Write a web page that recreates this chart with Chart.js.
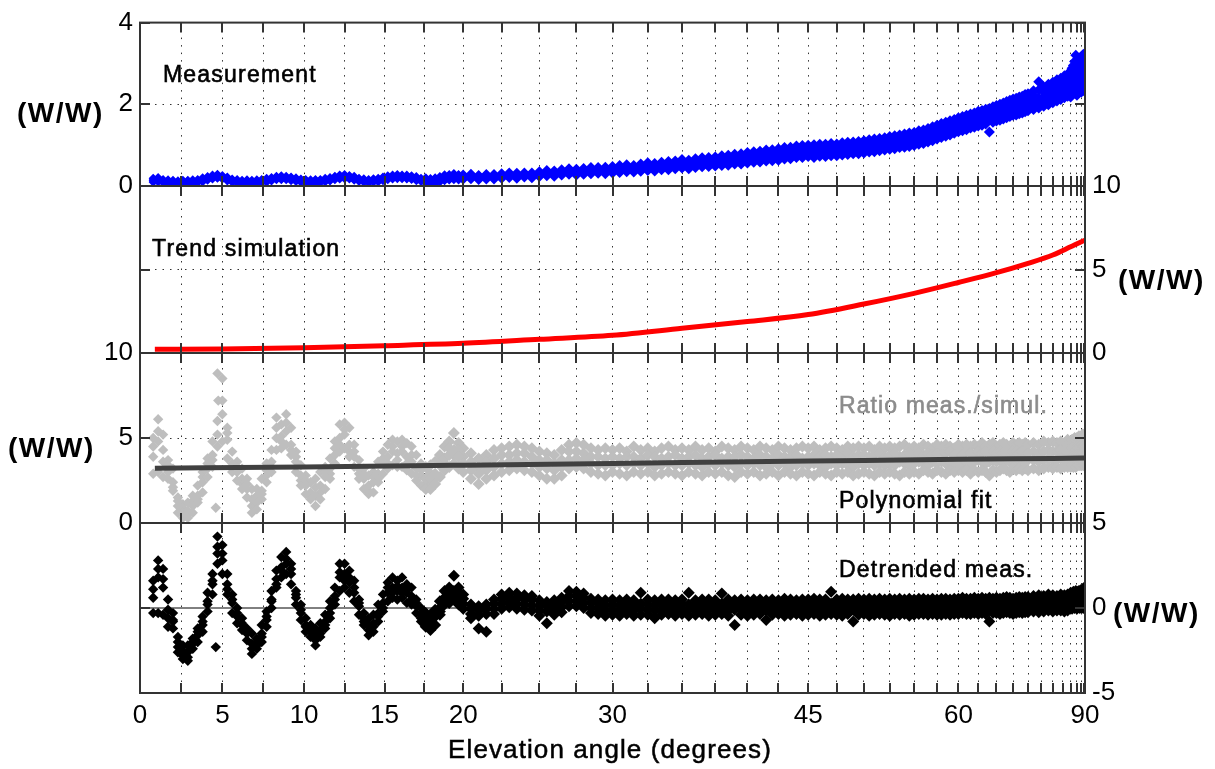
<!DOCTYPE html>
<html>
<head>
<meta charset="utf-8">
<script src="https://cdn.jsdelivr.net/npm/chart.js@4.4.1/dist/chart.umd.min.js"></script>
<style>
html,body{margin:0;padding:0;background:#ffffff;}
#wrap{position:relative;width:1215px;height:769px;overflow:hidden;background:#ffffff;}
#wrap canvas{position:absolute;left:0;top:0;}
</style>
</head>
<body>
<div id="wrap">
<canvas id="p1" width="1215" height="769"></canvas>
<canvas id="p2" width="1215" height="769"></canvas>
<canvas id="p3" width="1215" height="769"></canvas>
<canvas id="p4" width="1215" height="769"></canvas>
</div>
<script>
// ---------------- DATA ----------------
// Elevation angles (degrees) at which the scattered samples were read
const angles = [
  0.8,1.1,1.4,1.7,2.0,2.3,2.6,2.9,3.2,3.5,3.8,4.1,4.4,4.7,5.0,5.3,
  5.6,5.9,6.2,6.5,6.8,7.1,7.4,7.7,8.0,8.3,8.6,8.9,9.2,9.5,9.8,10.1,
  10.4,10.7,11.0,11.3,11.6,11.9,12.2,12.5,12.8,13.1,13.4,13.7,14.0,14.3,14.6,14.9,
  15.2,15.5,15.8,16.1,16.4,16.7,17.0,17.3,17.6,17.9,18.2,18.5,18.8,19.1,19.4,19.7,
  20,20.5,21,21.5,22,22.5,23,23.5,24,24.5,
  25,25.5,26,26.5,27,27.5,28,28.5,29,29.5,
  30,30.5,31,31.5,32,32.5,33,33.5,34,34.5,
  35,35.5,36,36.5,37,37.5,38,38.5,39,39.5,
  40,40.5,41,41.5,42,42.5,43,43.5,44,44.5,
  45,45.5,46,46.5,47,47.5,48,48.5,49,49.5,
  50,50.5,51,51.5,52,52.5,53,53.5,54,54.5,
  55,55.5,56,56.5,57,57.5,58,58.5,59,59.5,
  60,60.5,61,61.5,62,62.5,63,63.5,64,64.5,
  65,65.5,66,66.5,67,67.5,68,68.5,69,69.5,
  70,
  71,72,73,74,75,76,77,78,79,
  80,80.5,81,81.5,82,82.5,83,83.5,84,84.5,
  85,85.5,86,86.5,87,87.5,88,88.5,89,89.5
];

// Measurement (W/W): five samples across the band at each angle
const measA = [
  0.19,0.21,0.16,0.15,0.14,0.13,0.14,0.14,0.15,0.16,0.20,0.23,0.27,0.29,0.26,0.22,
  0.17,0.16,0.14,0.15,0.14,0.15,0.16,0.19,0.21,0.24,0.25,0.24,0.22,0.20,0.17,0.16,
  0.15,0.16,0.16,0.19,0.21,0.24,0.27,0.28,0.26,0.24,0.19,0.18,0.16,0.18,0.19,0.22,
  0.25,0.27,0.28,0.27,0.27,0.25,0.23,0.19,0.18,0.16,0.18,0.21,0.25,0.26,0.28,0.26,
  0.27,0.29,0.26,0.28,0.28,0.30,0.32,0.31,0.32,0.32,
  0.35,0.38,0.37,0.40,0.42,0.41,0.43,0.45,0.45,0.46,
  0.48,0.50,0.52,0.50,0.54,0.57,0.55,0.58,0.60,0.61,
  0.65,0.63,0.67,0.69,0.70,0.71,0.74,0.75,0.78,0.79,
  0.82,0.84,0.85,0.88,0.89,0.91,0.94,0.95,0.98,0.99,
  1.00,1.01,1.02,1.02,1.04,1.03,1.06,1.07,1.08,1.09,
  1.11,1.13,1.15,1.16,1.18,1.21,1.23,1.25,1.27,1.30,
  1.31,1.35,1.37,1.41,1.45,1.49,1.53,1.56,1.60,1.63,
  1.67,1.70,1.73,1.76,1.79,1.83,1.85,1.88,1.90,1.94,
  1.97,2.00,2.03,2.07,2.10,2.13,2.15,2.18,2.20,2.24,
  2.26,
  2.33,2.55,2.43,2.49,2.54,2.60,2.64,2.70,2.74,
  2.80,2.88,2.95,3.05,3.20,2.92,3.10,2.98,3.05,3.15,
  3.00,3.18,3.08,3.22,3.02,3.12,3.24,3.06,3.16,3.00
];
const measD = [
  0.17,0.18,0.14,0.13,0.12,0.11,0.12,0.12,0.12,0.14,0.18,0.21,0.25,0.27,0.23,0.20,
  0.15,0.14,0.12,0.12,0.12,0.13,0.14,0.16,0.19,0.22,0.23,0.21,0.20,0.18,0.15,0.14,
  0.13,0.14,0.14,0.16,0.19,0.22,0.25,0.26,0.24,0.21,0.17,0.15,0.14,0.16,0.17,0.20,
  0.23,0.25,0.26,0.25,0.24,0.23,0.20,0.17,0.16,0.14,0.16,0.19,0.22,0.24,0.26,0.24,
  0.25,0.26,0.24,0.26,0.25,0.28,0.29,0.28,0.30,0.29,
  0.32,0.35,0.34,0.37,0.39,0.38,0.40,0.41,0.42,0.42,
  0.44,0.46,0.48,0.46,0.50,0.52,0.51,0.54,0.55,0.56,
  0.60,0.58,0.62,0.64,0.65,0.66,0.68,0.69,0.72,0.73,
  0.76,0.78,0.79,0.81,0.83,0.84,0.87,0.88,0.91,0.92,
  0.93,0.93,0.95,0.95,0.96,0.96,0.99,1.00,1.01,1.02,
  1.04,1.06,1.07,1.09,1.11,1.13,1.15,1.17,1.19,1.22,
  1.23,1.27,1.29,1.33,1.37,1.41,1.45,1.48,1.52,1.55,
  1.59,1.62,1.65,1.68,1.71,1.74,1.76,1.79,1.81,1.85,
  1.88,1.91,1.94,1.97,2.00,2.03,2.05,2.08,2.10,2.14,
  2.16,
  2.22,2.35,2.31,2.37,2.42,2.47,2.51,2.57,2.61,
  2.65,2.72,2.74,2.84,2.95,2.76,2.88,2.78,2.88,2.96,
  2.84,2.99,2.91,3.03,2.86,2.97,3.00,2.97,2.94,2.90
];
const measB = [
  0.14,0.15,0.12,0.10,0.10,0.09,0.09,0.10,0.10,0.12,0.15,0.18,0.22,0.24,0.21,0.17,
  0.13,0.11,0.10,0.10,0.10,0.10,0.12,0.14,0.17,0.19,0.20,0.19,0.18,0.15,0.13,0.12,
  0.11,0.11,0.12,0.14,0.17,0.19,0.22,0.23,0.22,0.19,0.15,0.13,0.12,0.13,0.15,0.17,
  0.20,0.22,0.23,0.23,0.22,0.21,0.18,0.15,0.13,0.12,0.13,0.17,0.20,0.22,0.23,0.22,
  0.22,0.23,0.21,0.23,0.22,0.25,0.26,0.25,0.27,0.26,
  0.29,0.31,0.31,0.33,0.35,0.34,0.36,0.37,0.38,0.38,
  0.40,0.41,0.43,0.42,0.45,0.47,0.46,0.49,0.50,0.51,
  0.54,0.53,0.56,0.58,0.59,0.60,0.62,0.63,0.66,0.67,
  0.69,0.71,0.72,0.74,0.76,0.77,0.80,0.81,0.84,0.85,
  0.86,0.85,0.88,0.87,0.88,0.89,0.91,0.92,0.93,0.94,
  0.96,0.98,0.99,1.01,1.03,1.05,1.07,1.09,1.11,1.13,
  1.15,1.18,1.21,1.24,1.28,1.32,1.36,1.39,1.43,1.46,
  1.50,1.53,1.56,1.59,1.62,1.65,1.67,1.70,1.72,1.75,
  1.78,1.81,1.84,1.87,1.90,1.93,1.95,1.98,2.00,2.03,
  2.05,
  2.10,2.15,2.19,2.24,2.29,2.34,2.38,2.43,2.47,
  2.50,2.56,2.52,2.62,2.70,2.60,2.66,2.58,2.72,2.78,
  2.68,2.80,2.74,2.85,2.70,2.82,2.76,2.88,2.72,2.80
];
const measE = [
  0.12,0.12,0.10,0.08,0.08,0.07,0.07,0.08,0.08,0.10,0.12,0.16,0.19,0.21,0.19,0.15,
  0.11,0.09,0.08,0.08,0.08,0.08,0.10,0.12,0.14,0.17,0.17,0.17,0.15,0.13,0.11,0.10,
  0.09,0.09,0.10,0.12,0.14,0.17,0.19,0.21,0.19,0.16,0.13,0.11,0.10,0.11,0.13,0.15,
  0.18,0.19,0.20,0.20,0.19,0.18,0.15,0.13,0.11,0.10,0.11,0.14,0.17,0.19,0.20,0.19,
  0.20,0.21,0.19,0.20,0.20,0.22,0.24,0.22,0.25,0.23,
  0.26,0.28,0.28,0.30,0.32,0.31,0.33,0.34,0.35,0.34,
  0.36,0.37,0.39,0.38,0.41,0.43,0.42,0.45,0.45,0.47,
  0.49,0.48,0.51,0.53,0.54,0.55,0.56,0.57,0.60,0.61,
  0.63,0.65,0.66,0.68,0.69,0.70,0.73,0.74,0.77,0.78,
  0.79,0.78,0.81,0.80,0.81,0.82,0.84,0.85,0.86,0.87,
  0.89,0.91,0.92,0.94,0.96,0.98,0.99,1.02,1.03,1.05,
  1.07,1.10,1.13,1.16,1.20,1.24,1.28,1.31,1.34,1.38,
  1.42,1.44,1.47,1.51,1.53,1.56,1.58,1.61,1.64,1.66,
  1.69,1.71,1.74,1.77,1.80,1.83,1.85,1.88,1.90,1.93,
  1.95,
  1.99,2.03,2.07,2.12,2.17,2.21,2.25,2.30,2.34,
  2.34,2.40,2.39,2.46,2.54,2.41,2.50,2.43,2.56,2.61,
  2.49,2.63,2.55,2.67,2.52,2.63,2.57,2.70,2.54,2.62
];
const measC = [
  0.09,0.10,0.08,0.06,0.06,0.05,0.05,0.06,0.06,0.08,0.10,0.14,0.17,0.19,0.17,0.12,
  0.09,0.07,0.06,0.06,0.06,0.06,0.08,0.09,0.12,0.15,0.15,0.15,0.13,0.11,0.09,0.08,
  0.07,0.07,0.08,0.10,0.12,0.15,0.17,0.18,0.17,0.14,0.11,0.09,0.08,0.09,0.10,0.13,
  0.15,0.17,0.18,0.18,0.17,0.16,0.13,0.11,0.09,0.08,0.09,0.12,0.15,0.17,0.18,0.17,
  0.17,0.18,0.16,0.17,0.17,0.19,0.21,0.19,0.22,0.20,
  0.23,0.25,0.24,0.27,0.29,0.27,0.29,0.30,0.31,0.30,
  0.32,0.33,0.35,0.34,0.36,0.38,0.37,0.40,0.40,0.42,
  0.44,0.42,0.45,0.47,0.48,0.49,0.50,0.51,0.54,0.54,
  0.56,0.58,0.59,0.61,0.62,0.63,0.66,0.67,0.70,0.70,
  0.72,0.70,0.73,0.72,0.74,0.74,0.76,0.77,0.79,0.79,
  0.81,0.83,0.84,0.86,0.88,0.90,0.91,0.94,0.95,0.97,
  0.99,1.02,1.04,1.08,1.11,1.15,1.19,1.22,1.25,1.29,
  1.33,1.35,1.38,1.42,1.44,1.47,1.49,1.52,1.32,1.56,
  1.59,1.61,1.64,1.67,1.70,1.73,1.74,1.77,1.79,1.82,
  1.84,
  1.87,1.91,1.95,1.99,2.04,2.08,2.12,2.16,2.20,
  2.18,2.24,2.26,2.30,2.38,2.22,2.34,2.28,2.40,2.44,
  2.30,2.46,2.36,2.50,2.34,2.44,2.38,2.52,2.36,2.45
];

// Trend simulation (W/W)
const trendAngles = [0.9,5,10,15,20,25,30,35,40,45,50,55,60,65,70,75,80,85,89];
const trendValues = [0.22,0.24,0.32,0.44,0.58,0.82,1.06,1.48,1.88,2.30,2.93,3.57,4.22,4.81,5.37,5.87,6.36,6.66,6.75];

// Ratio meas./simul.: four samples per angle
const ratioA = [
  5.0,6.1,5.2,3.7,3.2,1.5,1.1,1.2,1.6,2.2,3.0,3.8,4.8,8.8,8.5,5.6,
  4.2,3.6,3.2,2.6,2.0,2.0,2.6,3.5,4.3,6.2,5.8,6.4,5.6,4.2,3.4,2.8,
  2.4,2.6,3.0,3.3,3.8,4.8,5.8,5.9,5.6,4.6,3.7,3.2,2.8,3.0,3.6,4.2,
  4.6,4.9,4.8,4.9,4.7,4.5,4.0,3.5,3.3,3.4,3.6,4.0,4.5,4.8,5.3,4.7,
  4.4,4.1,3.8,4.0,4.3,4.4,4.5,4.6,4.5,4.4,
  4.2,4.1,4.0,4.3,4.6,4.7,4.6,4.4,4.3,4.4,
  4.3,4.4,4.2,4.5,4.3,4.4,4.2,4.4,4.5,4.3,
  4.4,4.3,4.5,4.3,4.4,4.2,4.5,4.4,4.3,4.5,
  4.4,4.3,4.5,4.4,4.3,4.5,4.4,4.3,4.4,4.5,
  4.4,4.5,4.3,4.4,4.5,4.4,4.3,4.5,4.4,4.5,
  4.4,4.5,4.3,4.5,4.4,4.5,4.4,4.5,4.6,4.4,
  4.5,4.4,4.6,4.5,4.4,4.6,4.5,4.6,4.5,4.4,
  4.6,4.5,4.6,4.5,4.6,4.5,4.7,4.5,4.6,4.7,
  4.5,4.6,4.7,4.6,4.5,4.7,4.6,4.7,4.6,4.7,
  4.6,
  4.7,4.6,4.8,4.7,4.8,4.7,4.8,4.7,4.9,
  4.8,4.9,4.8,5.0,4.9,5.0,4.8,5.1,4.9,5.0,
  5.1,4.9,5.2,5.0,5.1,5.2,5.0,5.1,5.0,5.1
];
const ratioD = [
  4.5,5.4,3.6,3.4,2.1,1.3,0.9,0.5,1.3,1.4,2.7,3.5,3.7,5.2,7.2,5.3,
  3.2,3.3,2.3,2.3,1.0,1.6,1.7,3.1,3.3,5.6,4.8,5.9,4.3,3.9,2.5,2.5,
  1.6,2.1,1.8,3.0,2.9,4.4,4.6,5.5,4.2,4.2,2.9,2.9,1.9,2.7,2.6,3.8,
  3.5,4.5,3.7,4.5,3.5,4.0,2.8,3.1,2.3,2.9,2.6,3.7,3.5,4.4,4.0,4.3,
  3.9,3.6,3.3,3.6,3.8,4.0,4.0,4.1,4.1,3.9,
  3.7,3.7,3.5,3.7,4.2,4.2,4.1,3.9,3.9,3.8,
  3.9,3.8,3.9,3.9,3.8,4.0,3.9,3.8,3.9,4.0,
  3.8,3.9,4.0,3.8,3.9,4.0,3.8,3.9,3.9,4.0,
  3.9,3.8,4.0,3.9,3.8,4.0,3.9,3.9,4.0,3.8,
  3.9,4.0,3.9,4.0,3.9,4.0,3.9,4.1,3.9,4.0,
  4.0,3.9,4.0,4.1,3.9,4.0,4.1,3.9,4.0,4.1,
  4.0,4.1,4.0,4.1,4.0,4.1,4.0,4.1,4.2,4.0,
  4.1,4.0,4.2,4.1,4.0,4.2,4.1,4.2,4.1,4.2,
  4.1,4.2,4.1,4.2,4.1,4.2,4.2,4.1,4.2,4.2,
  4.1,
  4.2,4.1,4.2,4.3,4.2,4.2,4.3,4.2,4.3,
  4.3,4.4,4.3,4.4,4.3,4.5,4.4,4.5,4.4,4.5,
  4.4,4.6,4.5,4.4,4.6,4.5,4.4,4.6,4.5,4.4
];
const ratioB = [
  3.9,4.8,4.3,3.0,2.4,1.0,0.6,0.7,1.0,1.6,2.4,3.2,4.0,6.0,6.4,4.9,
  3.5,3.0,2.6,2.0,1.4,1.2,1.9,2.8,3.6,5.0,5.1,5.4,4.6,3.6,2.8,2.2,
  1.8,1.6,2.2,2.7,3.2,4.0,5.0,5.2,4.6,3.9,3.2,2.6,2.2,2.4,2.9,3.5,
  3.9,4.2,4.1,4.2,3.9,3.6,3.2,2.8,2.6,2.6,2.9,3.4,3.8,4.0,4.3,3.9,
  3.5,3.1,2.9,3.1,3.3,3.5,3.6,3.7,3.6,3.5,
  3.3,3.2,3.1,3.3,3.7,3.8,3.7,3.5,3.4,3.4,
  3.4,3.5,3.4,3.5,3.4,3.5,3.3,3.4,3.5,3.4,
  3.4,3.5,3.4,3.3,3.5,3.4,3.5,3.4,3.3,3.5,
  3.4,3.5,3.4,3.3,3.5,3.4,3.5,3.3,3.4,3.5,
  3.4,3.5,3.4,3.3,3.5,3.4,3.5,3.4,3.3,3.5,
  3.4,3.5,3.4,3.5,3.4,3.5,3.4,3.6,3.5,3.4,
  3.5,3.6,3.5,3.4,3.6,3.5,3.6,3.5,3.6,3.5,
  3.6,3.5,3.6,3.5,3.6,3.7,3.6,3.5,3.6,3.7,
  3.6,3.7,3.6,3.7,3.6,3.7,3.6,3.7,3.7,3.6,
  3.7,
  3.7,3.6,3.7,3.8,3.7,3.7,3.8,3.7,3.8,
  3.8,3.9,3.8,3.9,3.8,4.0,3.9,4.0,3.9,4.0,
  3.9,4.0,4.1,3.9,4.0,4.1,3.9,4.0,4.1,4.0
];
const ratioC = [
  2.9,3.0,2.7,2.6,1.9,0.6,0.3,0.3,0.6,1.2,1.8,2.7,3.3,4.5,4.8,3.8,
  3.0,2.5,2.0,1.5,0.6,0.8,1.4,2.4,3.0,4.3,4.4,4.6,4.0,3.0,2.2,1.7,
  1.4,1.0,1.4,2.0,2.6,3.5,4.2,4.4,3.9,3.3,2.6,2.0,1.7,1.8,2.4,2.9,
  3.2,3.4,3.3,3.3,3.1,2.9,2.5,2.2,2.0,2.0,2.3,2.7,3.1,3.3,3.5,3.2,
  3.0,2.6,2.3,2.6,2.8,3.0,3.1,3.2,3.1,3.0,
  2.8,2.6,2.6,2.8,3.2,3.3,3.2,3.0,2.9,2.8,
  3.0,2.9,2.8,3.0,2.9,3.0,2.8,2.9,3.0,2.9,
  2.8,3.0,2.9,2.8,3.0,2.9,3.0,2.8,2.7,3.0,
  2.9,3.0,2.8,2.9,3.0,2.8,3.0,2.9,2.8,3.0,
  2.9,2.8,3.0,2.9,2.8,3.0,2.9,3.0,2.8,2.9,
  3.0,2.9,2.8,3.0,2.9,3.0,2.9,2.8,3.0,2.9,
  3.0,2.9,3.1,3.0,2.9,3.1,3.0,2.9,3.1,3.0,
  3.1,3.0,3.1,2.9,3.1,3.0,3.1,3.0,2.8,3.1,
  3.0,3.1,3.2,3.1,3.0,3.2,3.1,3.2,3.1,3.2,
  3.1,
  3.2,3.1,3.2,3.3,3.2,3.3,3.2,3.3,3.3,
  3.3,3.4,3.3,3.4,3.3,3.5,3.4,3.5,3.4,3.5,
  3.4,3.5,3.6,3.4,3.5,3.6,3.4,3.5,3.6,3.5
];
const ratioExtraAngles = [4.6, 4.75];
const ratioExtraValues = [0.9, 7.2];

// Polynomial fit of the ratio
const fitAngles = [0.9,10,20,30,40,50,60,75,89];
const fitValues = [3.22,3.30,3.40,3.50,3.60,3.68,3.75,3.80,3.82];

// Detrended measurement (W/W): four samples per angle
const detrA = [
  1.6,2.8,2.3,0.5,-0.3,-2.0,-2.5,-2.2,-1.8,-1.2,-0.5,0.9,2.0,4.2,3.7,2.0,
  0.8,0.0,-0.6,-1.2,-1.5,-1.8,-1.0,-0.2,1.0,2.2,3.0,3.3,2.6,1.0,0.2,-0.6,
  -1.0,-1.2,-0.9,-0.4,0.4,1.2,2.6,2.6,2.2,1.6,0.5,-0.3,-0.6,-0.4,0.2,0.8,
  1.5,1.8,1.6,1.8,1.4,1.2,0.5,0.0,-0.3,-0.4,-0.1,0.4,1.0,1.2,1.9,1.2,
  0.8,0.2,0.1,0.2,0.5,0.8,0.9,0.85,0.75,0.7,
  0.45,0.35,0.45,0.6,1.0,0.95,0.85,0.55,0.5,0.45,
  0.5,0.45,0.5,0.45,0.9,0.5,0.45,0.5,0.5,0.45,
  0.5,0.9,0.45,0.5,0.5,0.45,0.85,0.5,0.45,0.5,
  0.45,0.5,0.5,0.45,0.5,0.45,0.55,0.5,0.45,0.5,
  0.5,0.55,0.5,0.5,0.95,0.5,0.55,0.5,0.5,0.55,
  0.5,0.55,0.5,0.55,0.5,0.55,0.5,0.55,0.5,0.55,
  0.5,0.55,0.55,0.5,0.55,0.5,0.55,0.55,0.5,0.55,
  0.55,0.6,0.55,0.55,0.6,0.55,0.6,0.55,0.6,0.55,
  0.6,0.55,0.6,0.65,0.6,0.55,0.6,0.65,0.6,0.65,
  0.65,
  0.7,0.75,0.7,0.8,0.75,0.7,0.8,0.75,0.8,
  0.9,0.85,0.95,0.9,1.0,0.9,0.95,1.0,0.9,1.05,
  0.95,1.0,1.1,0.95,1.0,1.05,1.2,1.0,0.95,1.0
];
const detrD = [
  1.1,2.3,1.7,-0.1,-0.7,-1.7,-2.2,-2.9,-2.0,-1.4,-0.8,0.2,1.6,3.6,3.2,1.1,
  0.5,-0.3,-0.9,-1.4,-2.4,-2.0,-1.7,-0.5,0.4,1.4,2.2,2.9,2.3,0.8,-0.1,-1.1,
  -1.2,-1.9,-1.5,-1.0,-0.3,0.5,2.1,1.6,1.8,1.2,0.3,-0.8,-1.3,-1.1,-0.5,0.0,
  1.2,0.9,1.3,0.9,1.1,0.5,0.3,-0.6,-0.9,-1.0,-0.3,-0.2,0.4,1.0,0.8,0.9,
  0.55,-0.05,-0.15,-0.05,0.25,0.55,0.65,0.55,0.5,0.45,
  0.15,0.1,0.2,0.35,0.7,0.7,0.6,0.3,0.25,0.15,
  0.2,0.15,0.25,0.15,0.25,0.2,0.15,0.2,0.25,0.15,
  0.25,0.2,0.15,0.25,0.2,0.15,0.25,0.15,0.2,0.25,
  0.15,0.2,0.25,0.15,0.2,0.25,0.15,0.2,0.25,0.15,
  0.2,0.25,0.2,0.2,0.25,0.2,0.25,0.15,0.2,0.25,
  0.2,0.15,0.25,0.2,0.25,0.15,0.2,0.25,0.2,0.25,
  0.2,0.25,0.25,0.2,0.25,0.25,0.2,0.25,0.25,0.2,
  0.25,0.3,0.25,0.25,0.3,0.25,0.3,0.25,0.3,0.25,
  0.3,0.25,0.3,0.35,0.3,0.25,0.3,0.35,0.3,0.35,
  0.35,
  0.4,0.35,0.4,0.45,0.4,0.45,0.45,0.4,0.45,
  0.6,0.55,0.65,0.6,0.65,0.6,0.65,0.7,0.6,0.65,
  0.65,0.7,0.65,0.6,0.7,0.65,0.7,0.65,0.6,0.7
];
const detrB = [
  0.6,1.8,1.2,-0.6,-1.2,-2.6,-3.0,-3.1,-2.4,-2.0,-1.4,-0.2,0.8,2.6,2.0,0.8,
  -0.3,-0.9,-1.3,-1.9,-2.7,-2.4,-2.0,-1.1,0.0,1.2,1.8,2.0,1.4,0.2,-0.7,-1.4,
  -1.7,-2.2,-1.7,-1.2,-0.6,0.2,1.0,1.2,0.9,0.4,-0.4,-1.0,-1.6,-1.4,-0.8,-0.2,
  0.4,0.6,0.5,0.6,0.3,0.2,-0.3,-0.8,-1.1,-1.3,-1.0,-0.4,0.2,0.3,0.5,0.2,
  0.25,-0.35,-0.45,-0.35,-0.05,0.25,0.35,0.25,0.2,0.15,
  -0.15,-0.2,-0.1,0.05,0.4,0.4,0.3,0.0,-0.05,-0.15,
  -0.1,-0.15,-0.05,-0.15,-0.05,-0.1,-0.15,-0.1,-0.05,-0.15,
  -0.05,-0.1,-0.15,-0.05,-0.1,-0.15,-0.05,-0.15,-0.1,-0.05,
  -0.15,-0.1,-0.05,-0.15,-0.1,-0.05,-0.15,-0.1,-0.05,-0.15,
  -0.1,-0.05,-0.15,-0.1,-0.05,-0.1,-0.05,-0.15,-0.1,-0.05,
  -0.1,-0.15,-0.05,-0.1,-0.05,-0.15,-0.1,-0.05,-0.1,-0.05,
  -0.1,-0.05,-0.05,-0.1,-0.05,-0.05,-0.1,-0.05,-0.05,-0.1,
  -0.05,0.0,-0.05,-0.05,0.0,-0.05,0.0,-0.05,0.0,-0.05,
  0.0,-0.05,0.0,0.05,0.0,-0.05,0.0,0.05,0.0,0.05,
  0.05,
  0.1,0.05,0.1,0.15,0.1,0.15,0.15,0.1,0.15,
  0.3,0.25,0.35,0.3,0.35,0.3,0.35,0.4,0.3,0.35,
  0.35,0.4,0.35,0.3,0.4,0.35,0.4,0.35,0.3,0.4
];
const detrC = [
  -0.3,-0.3,-0.4,-1.1,-0.8,-2.3,-2.8,-2.6,-2.1,-1.6,-1.0,0.4,1.4,3.2,2.8,1.4,
  0.3,-0.5,-1.0,-1.5,-2.1,-2.2,-1.5,-0.7,0.5,1.7,2.4,2.6,2.0,0.6,-0.3,-1.0,
  -1.4,-1.6,-1.3,-0.8,0.0,0.7,1.8,2.0,1.5,0.9,0.1,-0.6,-1.0,-0.9,-0.3,0.3,
  0.9,1.2,1.0,1.2,0.9,0.7,0.1,-0.4,-0.7,-0.8,-0.5,0.0,0.6,0.8,1.0,0.7,
  -0.05,-0.6,-1.2,-1.4,-0.35,-0.05,0.05,-0.05,-0.1,-0.15,
  -0.45,-0.9,-0.4,-0.25,0.1,0.1,0.0,-0.3,-0.35,-0.45,
  -0.4,-0.45,-0.35,-0.45,-0.4,-0.4,-0.6,-0.4,-0.35,-0.45,
  -0.35,-0.45,-0.4,-0.35,-0.45,-0.4,-0.35,-0.45,-1.0,-0.4,
  -0.45,-0.4,-0.35,-0.7,-0.4,-0.35,-0.45,-0.4,-0.35,-0.45,
  -0.4,-0.35,-0.45,-0.4,-0.35,-0.4,-0.45,-0.35,-0.8,-0.4,
  -0.35,-0.45,-0.4,-0.35,-0.4,-0.45,-0.35,-0.4,-0.35,-0.45,
  -0.4,-0.35,-0.35,-0.4,-0.35,-0.4,-0.4,-0.35,-0.4,-0.35,
  -0.35,-0.3,-0.35,-0.35,-0.3,-0.35,-0.3,-0.35,-0.8,-0.3,
  -0.3,-0.35,-0.3,-0.25,-0.3,-0.35,-0.3,-0.25,-0.3,-0.25,
  -0.25,
  -0.2,-0.25,-0.2,-0.15,-0.2,-0.15,-0.15,-0.2,-0.15,
  0.0,-0.05,0.05,0.0,0.05,-0.05,0.05,0.1,0.0,0.05,
  0.05,0.1,0.05,0.0,0.1,0.05,0.1,0.05,0.0,0.1
];
const detrExtraAngles = [4.6];
const detrExtraValues = [-2.3];

// Zero reference line of the detrended panel
const zeroAngles = [0, 90];
const zeroValues = [0, 0];

// Axis ticks
const xTickDegrees = [0,2.5,5,7.5,10,12.5,15,17.5,20,22.5,25,27.5,30,32.5,35,37.5,40,42.5,45,
                      47.5,50,52.5,55,57.5,60,62.5,65,67.5,70,72.5,75,77.5,80,82.5,85,87.5,90];
const xLabelDegrees = [0,5,10,15,20,30,45,60,90];
const measTicks = [0,2,4];
const trendTicks = [0,5,10];
const ratioTicks = [0,5,10];
const detrTicks = [-5,0,5];

// ---------------- CHART BUILDING ----------------
[measA,measB,measC,measD,measE,ratioA,ratioB,ratioC,ratioD,detrA,detrB,detrC,detrD].forEach((a, k) => {
  if (a.length !== angles.length) throw new Error('array ' + k + ' length ' + a.length + ' != ' + angles.length);
});

const FONT = "'Liberation Sans', Arial, Helvetica, sans-serif";
const D2R = Math.PI / 180;
function toXY(degs, vals) { return degs.map((d, i) => ({x: Math.sin(d * D2R), y: vals[i]})); }
function bandXY(cols) { return [].concat(...cols.map(c => toXY(angles, c))); }

const PLOT_LEFT = 140, PLOT_RIGHT = 1085, W = 1215, H = 769;
const TICK = 10;
const DENSE_X = Math.sin(17.5 * D2R); // beyond this the samples form a dense band

const framePlugin = {
  id: 'frame',
  afterDraw(chart) {
    const {ctx, chartArea} = chart;
    const {left, right, top, bottom} = chartArea;
    const xs = chart.scales.x, ys = chart.scales.y;
    ctx.save();
    ctx.setLineDash([]);
    ctx.strokeStyle = '#333333';
    ctx.lineWidth = 2;
    ctx.beginPath();
    xs.ticks.forEach(t => {
      const px = Math.round(xs.getPixelForValue(t.value));
      ctx.moveTo(px, top); ctx.lineTo(px, top + TICK);
      ctx.moveTo(px, bottom); ctx.lineTo(px, bottom - TICK);
    });
    ys.ticks.forEach(t => {
      const py = Math.round(ys.getPixelForValue(t.value));
      ctx.moveTo(left, py); ctx.lineTo(left + TICK, py);
      ctx.moveTo(right, py); ctx.lineTo(right - TICK, py);
    });
    ctx.stroke();
    ctx.strokeRect(left, top, right - left, bottom - top);
    ctx.restore();
  }
};

function textPlugin(items) {
  return {
    id: 'texts',
    afterDraw(chart) {
      const ctx = chart.ctx;
      ctx.save();
      items.forEach(it => {
        ctx.font = it.font;
        ctx.fillStyle = it.color || '#000000';
        ctx.strokeStyle = it.color || '#000000';
        ctx.textAlign = it.align || 'left';
        ctx.textBaseline = 'alphabetic';
        try { ctx.letterSpacing = it.spacing || '0px'; } catch (e) {}
        ctx.fillText(it.text, it.x, it.y);
        if (it.heavy) { ctx.lineWidth = it.heavy; ctx.strokeText(it.text, it.x, it.y); }
      });
      ctx.restore();
    }
  };
}

const LABEL_FONT = '23px ' + FONT;
const UNIT_FONT = 'bold 28px ' + FONT;

function makePanel(id, cfg) {
  const yLeft = cfg.ySide === 'left';
  const Y_W = 40;
  const X_H = cfg.showX ? 40 : 0;
  const padding = {
    top: cfg.top,
    bottom: H - cfg.bottom - X_H,
    left: yLeft ? PLOT_LEFT - Y_W : PLOT_LEFT,
    right: yLeft ? W - PLOT_RIGHT : W - PLOT_RIGHT - Y_W
  };
  return new Chart(document.getElementById(id), {
    type: 'scatter',
    data: {datasets: cfg.datasets},
    options: {
      responsive: false,
      maintainAspectRatio: false,
      devicePixelRatio: 1,
      animation: false,
      events: [],
      layout: {padding},
      plugins: {legend: {display: false}, tooltip: {enabled: false}},
      scales: {
        x: {
          type: 'linear', position: 'bottom', min: 0, max: 1,
          afterBuildTicks: s => { s.ticks = xTickDegrees.map(d => ({value: Math.sin(d * D2R)})); },
          afterFit: s => { s.height = X_H; },
          grid: {
            drawTicks: false, lineWidth: 1,
            color: c => (c.index === 0 || c.index === xTickDegrees.length - 1) ? 'rgba(0,0,0,0)' : '#333333'
          },
          border: {display: false, dash: [1.5, 6]},
          ticks: {
            display: !!cfg.showX, autoSkip: false, maxRotation: 0, minRotation: 0, padding: 7,
            color: '#000000', font: {family: FONT, size: 26},
            callback: (v, i) => xLabelDegrees.includes(xTickDegrees[i]) ? String(xTickDegrees[i]) : ''
          }
        },
        y: {
          type: 'linear', position: cfg.ySide, min: cfg.yMin, max: cfg.yMax,
          afterBuildTicks: s => { s.ticks = cfg.yTicks.map(v => ({value: v})); },
          afterFit: s => { s.width = Y_W; },
          grid: {
            display: cfg.yGrid !== null, drawTicks: false, lineWidth: 1,
            color: c => (c.tick && c.tick.value === cfg.yGrid) ? '#333333' : 'rgba(0,0,0,0)'
          },
          border: {display: false, dash: [1.5, 6]},
          ticks: {padding: 7, color: '#000000', font: {family: FONT, size: 26}}
        }
      }
    },
    plugins: [framePlugin, textPlugin(cfg.texts)]
  });
}

function scatterSet(data, color, rLow, rHigh) {
  const rad = c => (c.raw && c.raw.x > DENSE_X) ? rHigh : rLow;
  return {data, showLine: false, pointStyle: 'rectRot', pointRadius: rad, pointHoverRadius: rad,
          pointBorderWidth: 0, backgroundColor: color, borderColor: color};
}
function lineSet(data, color, w, smooth) {
  return {data, showLine: true, pointRadius: 0, pointHoverRadius: 0, borderColor: color,
          backgroundColor: color, borderWidth: w, fill: false,
          cubicInterpolationMode: smooth ? 'monotone' : 'default', tension: 0};
}

// Panel 1: Measurement
makePanel('p1', {
  top: 17, bottom: 186, ySide: 'left', yMin: 0, yMax: 4, yTicks: measTicks, yGrid: 2, showX: false,
  datasets: [scatterSet(bandXY([measA, measD, measB, measE, measC]), '#0000FF', 4.5, 5.5)],
  texts: [
    {text: 'Measurement', x: 163, y: 82, font: LABEL_FONT, spacing: '1.2px', heavy: 0.6},
    {text: '(W/W)', x: 17, y: 122, font: UNIT_FONT, spacing: '1.5px'}
  ]
});

// Panel 2: Trend simulation
makePanel('p2', {
  top: 186, bottom: 353, ySide: 'right', yMin: 0, yMax: 10, yTicks: trendTicks, yGrid: 5, showX: false,
  datasets: [lineSet(toXY(trendAngles, trendValues), '#FF0000', 5, true)],
  texts: [
    {text: 'Trend simulation', x: 152, y: 256, font: LABEL_FONT, spacing: '1.2px', heavy: 0.6},
    {text: '(W/W)', x: 1118, y: 289, font: UNIT_FONT, spacing: '1.5px'}
  ]
});

// Panel 3: Ratio and polynomial fit
makePanel('p3', {
  top: 353, bottom: 523, ySide: 'left', yMin: 0, yMax: 10, yTicks: ratioTicks, yGrid: 5, showX: false,
  datasets: [
    lineSet(toXY(fitAngles, fitValues), '#404040', 5, true),
    scatterSet(bandXY([ratioA, ratioD, ratioB, ratioC]).concat(toXY(ratioExtraAngles, ratioExtraValues)), '#BEBEBE', 5.2, 6)
  ],
  texts: [
    {text: 'Ratio meas./simul.', x: 839, y: 413, font: LABEL_FONT, spacing: '1.1px', color: '#8C8C8C', heavy: 0.6},
    {text: 'Polynomial fit', x: 839, y: 508, font: LABEL_FONT, spacing: '1.2px', heavy: 0.6},
    {text: '(W/W)', x: 8, y: 457, font: UNIT_FONT, spacing: '1.5px'}
  ]
});

// Panel 4: Detrended measurement
makePanel('p4', {
  top: 523, bottom: 693, ySide: 'right', yMin: -5, yMax: 5, yTicks: detrTicks, yGrid: null, showX: true,
  datasets: [
    scatterSet(bandXY([detrA, detrD, detrB, detrC]).concat(toXY(detrExtraAngles, detrExtraValues)), '#000000', 5.2, 6),
    lineSet(toXY(zeroAngles, zeroValues), '#000000', 1, false)
  ],
  texts: [
    {text: 'Detrended meas.', x: 839, y: 577, font: LABEL_FONT, spacing: '1.2px', heavy: 0.6},
    {text: '(W/W)', x: 1113, y: 622, font: UNIT_FONT, spacing: '1.5px'},
    {text: 'Elevation angle (degrees)', x: 610, y: 758, font: '26px ' + FONT, spacing: '1.1px', align: 'center', heavy: 0.5}
  ]
});
</script>
</body>
</html>
